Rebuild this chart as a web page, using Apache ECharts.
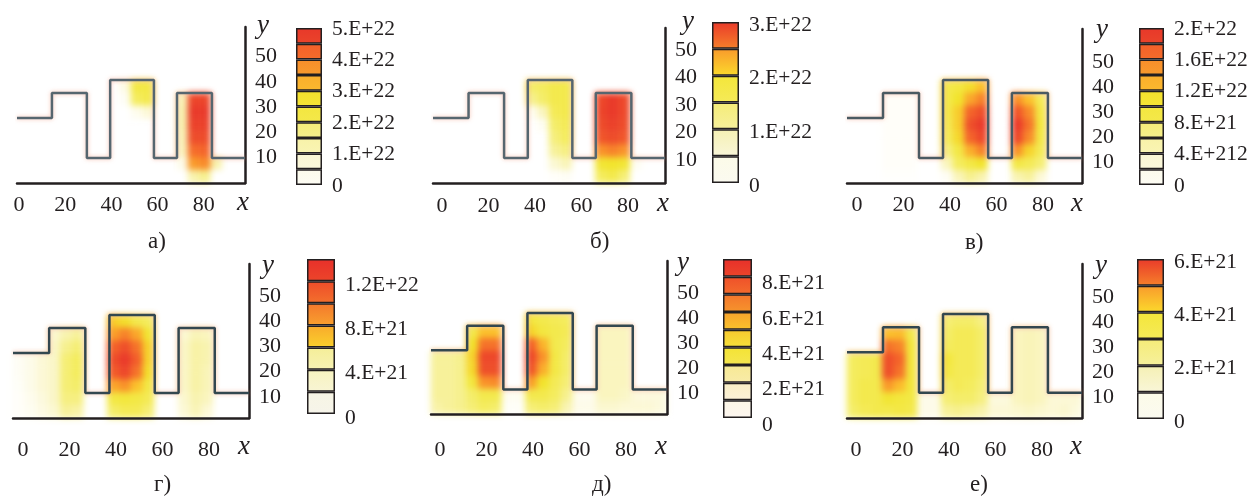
<!DOCTYPE html>
<html>
<head>
<meta charset="utf-8">
<script src="https://cdn.jsdelivr.net/npm/echarts@6/dist/echarts.min.js"></script>
<style>
  html, body { margin: 0; padding: 0; background: #fff; }
  #heat, #chart { position: absolute; left: 0; top: 0; width: 1251px; height: 496px; }
  #heat { filter: blur(3px); }
</style>
</head>
<body>
<div id="heat"></div>
<div id="chart"></div>
<script>
// channel profile, x along the structure, y height above the base
const profileX = [0, 15, 15, 30, 30, 40, 40, 58.8, 58.8, 68.7, 68.7, 83.7, 83.7, 97.9];
const profileY = [26, 26, 36, 36, 10, 10, 41.2, 41.2, 10, 10, 36, 36, 10, 10];
const xTicks = [0, 20, 40, 60, 80];
const yTicks = [10, 20, 30, 40, 50];
const captions = ['а)', 'б)', 'в)', 'г)', 'д)', 'е)'];

// concentration fields, % of colour scale, rows top to bottom, 20 columns
const heatA = [
  [0,0,0,0,0,0,0,0, 0,10,44,44, 0,0, 0,0,0, 0,0,0],
  [0,0,0,0,0,0,0,0, 0,4,38,42, 0,0, 22,97,97, 0,0,0],
  [0,0,0,0,0,0,0,0, 0,0,6,14, 0,0, 24,100,100, 0,0,0],
  [0,0,0,0,0,0,0,0, 0,0,0,0, 0,0, 24,98,98, 0,0,0],
  [0,0,0,0,0,0,0,0, 0,0,0,0, 0,0, 22,95,95, 0,0,0],
  [0,0,0,0,0,0,0,0, 0,0,0,0, 0,0, 20,86,88, 0,0,0],
  [0,0,0,0,0,0,0,0, 0,0,0,0, 0,0, 8,74,78, 25,0,0],
  [0,0,0,0,0,0,0,0, 0,0,0,0, 0,0, 0,25,30, 0,0,0]
];
const heatB = [
  [0,0,0,0,0,0,0,0, 36,38,42,42, 0,0, 0,0,0, 0,0,0],
  [0,0,0,0,0,0,0,0, 30,36,42,42, 0,0, 96,100,96, 0,0,0],
  [0,0,0,0,0,0,0,0, 5,20,40,42, 0,0, 97,100,96, 0,0,0],
  [0,0,0,0,0,0,0,0, 0,5,36,40, 0,0, 95,98,95, 0,0,0],
  [0,0,0,0,0,0,0,0, 0,0,33,38, 0,0, 92,95,92, 0,0,0],
  [0,0,0,0,0,0,0,0, 0,0,28,32, 0,0, 76,80,76, 0,0,0],
  [0,0,0,0,0,0,0,0, 0,0,15,22, 0,0, 48,50,48, 5,0,0],
  [0,0,0,0,0,0,0,0, 0,0,2,4, 0,0, 38,42,34, 0,0,0]
];
const heatC = [
  [0,0,0,0,0,0,0,0, 42,45,52,62, 0,0, 0,0,0, 0,0,0],
  [0,0,0,2,2,2,0,0, 42,50,70,80, 0,0, 76,62,40, 0,0,0],
  [0,0,0,2,2,2,0,0, 42,58,88,94, 0,0, 92,78,44, 0,0,0],
  [0,0,0,2,2,2,0,0, 40,58,94,100, 0,0, 100,84,46, 0,0,0],
  [0,0,0,2,2,2,0,0, 38,54,88,96, 0,0, 96,78,44, 0,0,0],
  [0,0,0,2,2,2,0,0, 32,44,68,80, 0,0, 76,56,40, 0,0,0],
  [0,0,0,2,2,2,0,0, 20,38,44,50, 0,0, 44,40,34, 0,0,0],
  [0,0,0,1,1,1,0,0, 4,22,30,25, 0,0, 24,28,14, 0,0,0]
];
const heatD = [
  [0,0,0,0,0,0,0,0, 58,52,42,38, 0,0, 0,0,0, 0,0,0],
  [0,0,0,16,24,28,0,0, 72,80,70,48, 0,0, 15,22,20, 0,0,0],
  [0,0,0,18,30,34,0,0, 88,94,84,56, 0,0, 18,26,24, 0,0,0],
  [4,8,14,18,34,38,0,0, 94,100,90,56, 0,0, 18,26,24, 0,0,0],
  [4,8,14,18,34,38,0,0, 90,96,84,52, 0,0, 18,26,22, 0,0,0],
  [3,8,14,18,34,36,0,0, 70,76,62,44, 0,0, 18,26,22, 0,0,0],
  [2,6,12,18,32,32,0,0, 44,46,44,40, 0,0, 16,24,20, 0,0,0],
  [2,5,10,15,28,26,0,0, 36,40,40,34, 0,0, 14,22,14, 0,0,0]
];
const heatE = [
  [0,0,0,0,0,0,0,0, 45,42,40,38, 0,0, 0,0,0, 0,0,0],
  [0,0,0,42,62,62,0,0, 55,45,42,40, 0,0, 20,20,20, 0,0,0],
  [0,0,0,50,84,84,0,0, 88,66,42,38, 0,0, 20,20,20, 0,0,0],
  [28,28,30,56,96,96,0,0, 96,76,44,36, 0,0, 20,20,20, 0,0,0],
  [28,28,30,54,94,94,0,0, 92,68,44,36, 0,0, 20,20,20, 0,0,0],
  [28,28,30,46,76,78,0,0, 72,50,40,34, 0,0, 20,20,20, 0,0,0],
  [28,28,30,36,42,42,5,5, 42,42,38,30, 6,6, 20,20,18, 12,12,12],
  [26,28,30,34,38,36,3,3, 34,36,34,24, 8,8, 16,16,14, 14,14,12]
];
const heatF = [
  [0,0,0,0,0,0,0,0, 34,36,36,32, 0,0, 0,0,0, 0,0,0],
  [0,0,0,62,64,42,0,0, 36,40,40,36, 0,0, 20,22,20, 0,0,0],
  [0,0,0,84,80,46,0,0, 38,40,40,36, 0,0, 20,22,20, 0,0,0],
  [38,40,42,94,88,46,0,0, 46,40,40,36, 0,0, 20,22,20, 0,0,0],
  [38,40,42,94,84,46,0,0, 44,40,40,36, 0,0, 20,22,20, 0,0,0],
  [38,42,42,74,64,46,0,0, 36,40,38,34, 0,0, 20,22,20, 0,0,0],
  [38,42,42,48,46,44,8,8, 34,36,36,32, 12,12, 20,22,20, 14,14,14],
  [36,40,42,42,44,42,8,8, 28,30,28,25, 14,14, 16,18,16, 14,16,12]
];
const heats = [heatA, heatB, heatC, heatD, heatE, heatF];

// colour scale ticks and band sizes of each panel
const barStepA = 0.5, barTicksA = [0, 1, 2, 3, 4, 5], barLabelsA = ['0', '1.E+22', '2.E+22', '3.E+22', '4.E+22', '5.E+22'];
const barStepB = 0.5, barTicksB = [0, 1, 2, 3], barLabelsB = ['0', '1.E+22', '2.E+22', '3.E+22'];
const barStepC = 2, barTicksC = [0, 4, 8, 12, 16, 20], barLabelsC = ['0', '4.E+212', '8.E+21', '1.2E+22', '1.6E+22', '2.E+22'];
const barStepD = 2, barTicksD = [0, 4, 8, 12], barLabelsD = ['0', '4.E+21', '8.E+21', '1.2E+22'];
const barStepE = 1, barTicksE = [0, 2, 4, 6, 8], barLabelsE = ['0', '2.E+21', '4.E+21', '6.E+21', '8.E+21'];
const barStepF = 1, barTicksF = [0, 2, 4, 6], barLabelsF = ['0', '2.E+21', '4.E+21', '6.E+21'];

// colours
const heatColors = ['#ffffff', '#fcf9dc', '#f8f2ac', '#f4ec60', '#f2e42c', '#fbc02c', '#f9962a', '#f4662a', '#e93a2a'];
const bands10 = [['#fdfcf4','#fcfbec'],['#fbf8dc','#faf6d4'],['#f9f4b4','#f8f2a8'],['#f6ef8c','#f5ec78'],['#f4e84a','#f3e640'],
  ['#f5e436','#f4e12c'],['#fbb82e','#fbae2c'],['#f99a2c','#f88e2b'],['#f56c2a','#f4602a'],['#ea442a','#e8382a']];
const bands6 = [['#fbfaf0','#fcfbe8'],['#f9f6d8','#f5f0b4'],['#f6f09c','#f5ec78'],['#f5ea58','#f4e63a'],['#fbd92c','#f99a2c'],['#f6802a','#e93a2a']];
const bands7 = [['#f6f4ea','#f7f5e4'],['#f8f5d4','#f7f3c0'],['#f7f2b4','#f5ee98'],['#fad02c','#f8aa2c'],['#f8a02e','#f4782c'],['#f3702c','#ee4c2a'],['#ec452a','#e8302a']];
const bands9 = [['#fdf6f0','#fcf6e6'],['#fbf1d8','#faeec4'],['#f8eba8','#f7e994'],['#f5e650','#f4e334'],['#f5e03a','#f8c82e'],
  ['#f9c22c','#f8a22c'],['#f6942c','#f4762c'],['#f36c2c','#ef502a'],['#ec452a','#e8302a']];

// pixel layout of each panel, drop moves the colour bar labels down from their band edge
const panels = [
  { left: 17,  right: 245,  top: 27,  base: 183, h: 103, zero: 19,  xPx: 2.31,  yZero: 183,   yPx: 2.53, xMargin: 11, lineColor: '#56666f',
    bar: { left: 296, right: 322, top: 28, bottom: 185, max: 5, step: barStepA, ticks: barTicksA, labels: barLabelsA, bands: bands10, drop: 1 },
    cap: [158, 242], yName: [264, 27], xName: [244, 204] },
  { left: 433, right: 665,  top: 28,  base: 183, h: 103, zero: 442, xPx: 2.325, yZero: 187.5, yPx: 2.75, xMargin: 12, lineColor: '#56666f',
    bar: { left: 712, right: 739, top: 22, bottom: 183, max: 3, step: barStepB, ticks: barTicksB, labels: barLabelsB, bands: bands6, drop: 3 },
    cap: [600, 242], yName: [689, 23], xName: [664, 205] },
  { left: 847, right: 1082, top: 29,  base: 183, h: 103, zero: 857, xPx: 2.325, yZero: 187,   yPx: 2.5,  xMargin: 11, lineColor: '#4a5a62',
    bar: { left: 1139, right: 1164, top: 28, bottom: 185, max: 20, step: barStepC, ticks: barTicksC, labels: barLabelsC, bands: bands10, drop: 1 },
    cap: [975, 243], yName: [1103, 31], xName: [1078, 205] },
  { left: 13,  right: 249,  top: 264, base: 418, h: 103, zero: 23,  xPx: 2.325, yZero: 422,   yPx: 2.52, xMargin: 21, lineColor: '#33474f',
    bar: { left: 307, right: 335, top: 259, bottom: 414, max: 14, step: barStepD, ticks: barTicksD, labels: barLabelsD, bands: bands7, drop: 4 },
    cap: [164, 485], yName: [269, 267], xName: [245, 448] },
  { left: 431, right: 667,  top: 261, base: 414, h: 101, zero: 440, xPx: 2.325, yZero: 418,   yPx: 2.5,  xMargin: 25, lineColor: '#33474f',
    bar: { left: 723, right: 752, top: 259, bottom: 418, max: 9, step: barStepE, ticks: barTicksE, labels: barLabelsE, bands: bands9, drop: 7 },
    cap: [602, 485], yName: [684, 264], xName: [662, 448] },
  { left: 847, right: 1082, top: 264, base: 418, h: 104, zero: 856, xPx: 2.325, yZero: 422,   yPx: 2.5,  xMargin: 21, lineColor: '#33474f',
    bar: { left: 1137, right: 1164, top: 259, bottom: 419, max: 6, step: barStepF, ticks: barTicksF, labels: barLabelsF, bands: bands6, drop: 3 },
    cap: [980, 485], yName: [1102, 267], xName: [1077, 448] }
];

const serif = '"Liberation Serif", "DejaVu Serif", serif';
const inkColor = '#231f20';

// underlay: blurred heat fields
var hGrid = [], hX = [], hY = [], hSeries = [], hMaps = [];
const colIds = heatA[0].map(function (v, i) { return String(i); });
const rowIds = heatA.map(function (v, i) { return String(heatA.length - 1 - i); });
panels.forEach(function (p, i) {
  hGrid.push({ left: p.left, top: p.base - p.h, width: p.right - p.left, height: p.h });
  hX.push({ type: 'category', gridIndex: i, data: colIds, show: false });
  hY.push({ type: 'category', gridIndex: i, data: rowIds.slice().reverse(), show: false });
  var cells = [];
  heats[i].forEach(function (row, r) {
    row.forEach(function (v, c) { cells.push([c, heatA.length - 1 - r, v]); });
  });
  hSeries.push({ type: 'heatmap', xAxisIndex: i, yAxisIndex: i, data: cells, progressive: 0, animation: false });
  hMaps.push({ show: false, type: 'continuous', seriesIndex: i, min: 0, max: 100, inRange: { color: heatColors } });
});
echarts.init(document.getElementById('heat')).setOption({
  animation: false, grid: hGrid, xAxis: hX, yAxis: hY, series: hSeries, visualMap: hMaps
});

// overlay: axes, profile line, colour bars, text
var grids = [], xAxes = [], yAxes = [], series = [], texts = [];
panels.forEach(function (p, i) {
  var xMin = (p.left - p.zero) / p.xPx;
  var xMax = (p.right - p.zero) / p.xPx;
  var yMin = (p.yZero - p.base) / p.yPx;
  var yMax = (p.yZero - p.top) / p.yPx;
  grids.push({ left: p.left, top: p.top, width: p.right - p.left, height: p.base - p.top });
  xAxes.push({
    type: 'value', gridIndex: i, min: xMin, max: xMax, position: 'bottom',
    axisLine: { show: true, onZero: false, lineStyle: { color: inkColor, width: 2.5 } },
    axisTick: { show: false }, splitLine: { show: false },
    axisLabel: { customValues: xTicks, margin: p.xMargin, fontFamily: serif, fontSize: 22, color: inkColor }
  });
  yAxes.push({
    type: 'value', gridIndex: i, min: yMin, max: yMax, position: 'right',
    axisLine: { show: true, onZero: false, lineStyle: { color: inkColor, width: 2.5 } },
    axisTick: { show: false }, splitLine: { show: false },
    axisLabel: { customValues: yTicks, margin: 10, fontFamily: serif, fontSize: 22, color: inkColor }
  });
  var line = profileX.map(function (x, k) {
    return [xMin + x / 97.9 * (xMax - xMin), yMin + profileY[k] * (p.h / 41.2) / p.yPx];
  });
  series.push({
    type: 'line', xAxisIndex: i, yAxisIndex: i, data: line, symbol: 'none', clip: false, animation: false,
    lineStyle: { color: p.lineColor, width: 2.5, shadowColor: 'rgba(240,140,110,0.55)', shadowBlur: 4 }
  });
  texts.push({ type: 'text', left: p.cap[0] - 10, top: p.cap[1] - 12, style: { text: captions[i], font: '23px ' + serif, fill: inkColor } });
  texts.push({ type: 'text', left: p.yName[0] - 7, top: p.yName[1] - 15, style: { text: 'y', font: 'italic 27px ' + serif, fill: inkColor } });
  texts.push({ type: 'text', left: p.xName[0] - 7, top: p.xName[1] - 15, style: { text: 'x', font: 'italic 27px ' + serif, fill: inkColor } });
});
panels.forEach(function (p, i) {
  var b = p.bar, g = grids.length;
  var drop = b.drop / ((b.bottom - b.top) / b.max);
  var tickAt = b.ticks.map(function (t) { return t - drop; });
  grids.push({ left: b.left, top: b.top, width: b.right - b.left, height: b.bottom - b.top + b.drop });
  xAxes.push({ type: 'category', gridIndex: g, data: ['c'], show: false });
  yAxes.push({
    type: 'value', gridIndex: g, min: -drop, max: b.max, position: 'right',
    axisLine: { show: false }, axisTick: { show: false }, splitLine: { show: false },
    axisLabel: {
      customValues: tickAt, margin: 10, fontFamily: serif, fontSize: 21.5, color: inkColor,
      formatter: function (v) { return b.labels[tickAt.indexOf(v)]; }
    }
  });
  b.bands.forEach(function (c) {
    series.push({
      type: 'bar', xAxisIndex: g, yAxisIndex: g, stack: 'bar' + i, barWidth: '100%', data: [b.step], animation: false,
      itemStyle: {
        borderColor: '#231f20', borderWidth: 1.5,
        color: new echarts.graphic.LinearGradient(0, 1, 0, 0, [{ offset: 0, color: c[0] }, { offset: 1, color: c[1] }])
      }
    });
  });
});
echarts.init(document.getElementById('chart')).setOption({
  animation: false, backgroundColor: 'transparent',
  grid: grids, xAxis: xAxes, yAxis: yAxes, series: series, graphic: texts
});
</script>
</body>
</html>
